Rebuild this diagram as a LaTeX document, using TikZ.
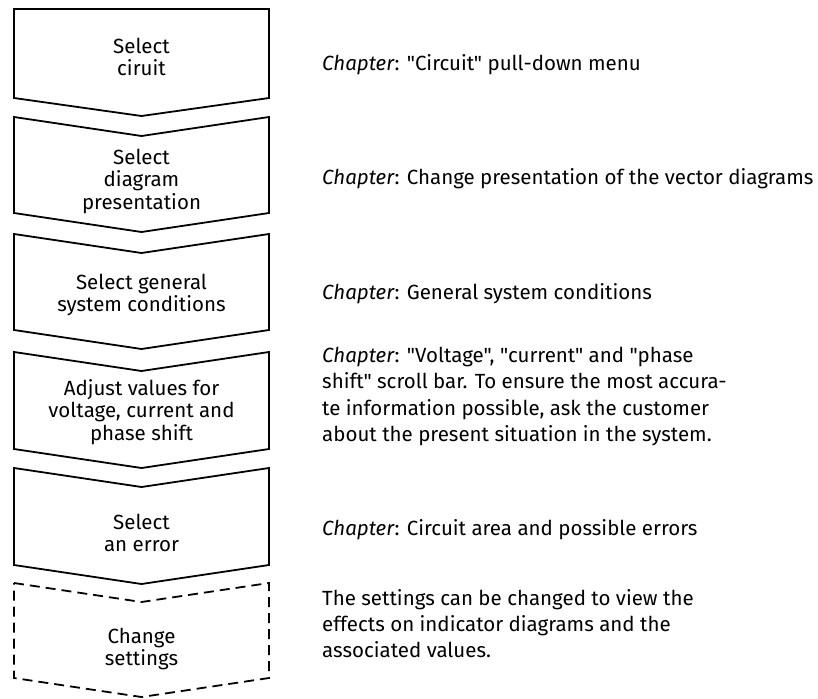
\documentclass[tikz,border=0pt]{standalone}
\usepackage{fontspec}
\setmainfont{Fira Sans}[Ligatures=TeXOff]
\begin{document}
\begin{tikzpicture}[x=1pt,y=-1pt,
  boxline/.style={line width=1.8pt, line join=miter},
  dashline/.style={line width=1.8pt, dash pattern=on 10pt off 6pt},
  boxtext/.style={align=center, inner sep=0pt, font=\fontsize{20.5}{22.5}\selectfont},
  sidetext/.style={anchor=base west, inner sep=0pt, font=\fontsize{20.5}{26.5}\selectfont}]
\useasboundingbox (0,0) rectangle (818,698);
% box 1 (flat top)
\draw[boxline] (14,9) -- (269,9) -- (269,98) -- (141.5,116) -- (14,98) -- cycle;
% boxes 2-5
\foreach \t/\h in {117/96, 234/96, 352/97, 468/97}{
  \draw[boxline] (14,\t) -- (141.5,\t+19) -- (269,\t) -- (269,\t+\h) -- (141.5,\t+\h+19) -- (14,\t+\h) -- cycle;
}
% box 6 dashed
\draw[dashline] (14,583) -- (141.5,602) -- (269,583) -- (269,678) -- (141.5,697) -- (14,678) -- cycle;

\node[boxtext] (b1) at (141.5,57) {Select\\ciruit};
\node[boxtext] (b2) at (141.5,181) {Select\\diagram\\presentation};
\node[boxtext] (b3) at (141.5,295) {Select general\\system conditions};
\node[boxtext] (b4) at (141.5,412) {Adjust values for\\voltage, current and\\phase shift};
\node[boxtext] (b5) at (141.5,533) {Select\\an error};
\node[boxtext] (b6) at (141.5,649) {Change\\settings};

\node[sidetext] (t1) at (322,71) {\textit{Chapter}: "Circuit" pull-down menu};
\node[sidetext] (t2) at (322,184) {\textit{Chapter}: Change presentation of the vector diagrams};
\node[sidetext] (t3) at (322,299) {\textit{Chapter}: General system conditions};
\node[sidetext] (t4a) at (322,362) {\textit{Chapter}: "Voltage", "current" and "phase};
\node[sidetext] (t4b) at (322,388.5) {shift" scroll bar. To ensure the most accura-};
\node[sidetext] (t4c) at (322,415) {te information possible, ask the customer};
\node[sidetext] (t4d) at (322,441.5) {about the present situation in the system.};
\node[sidetext] (t5) at (322,535) {\textit{Chapter}: Circuit area and possible errors};
\node[sidetext] (t6a) at (322,605) {The settings can be changed to view the};
\node[sidetext] (t6b) at (322,631) {effects on indicator diagrams and the};
\node[sidetext] (t6c) at (322,657) {associated values.};
\end{tikzpicture}
\end{document}
